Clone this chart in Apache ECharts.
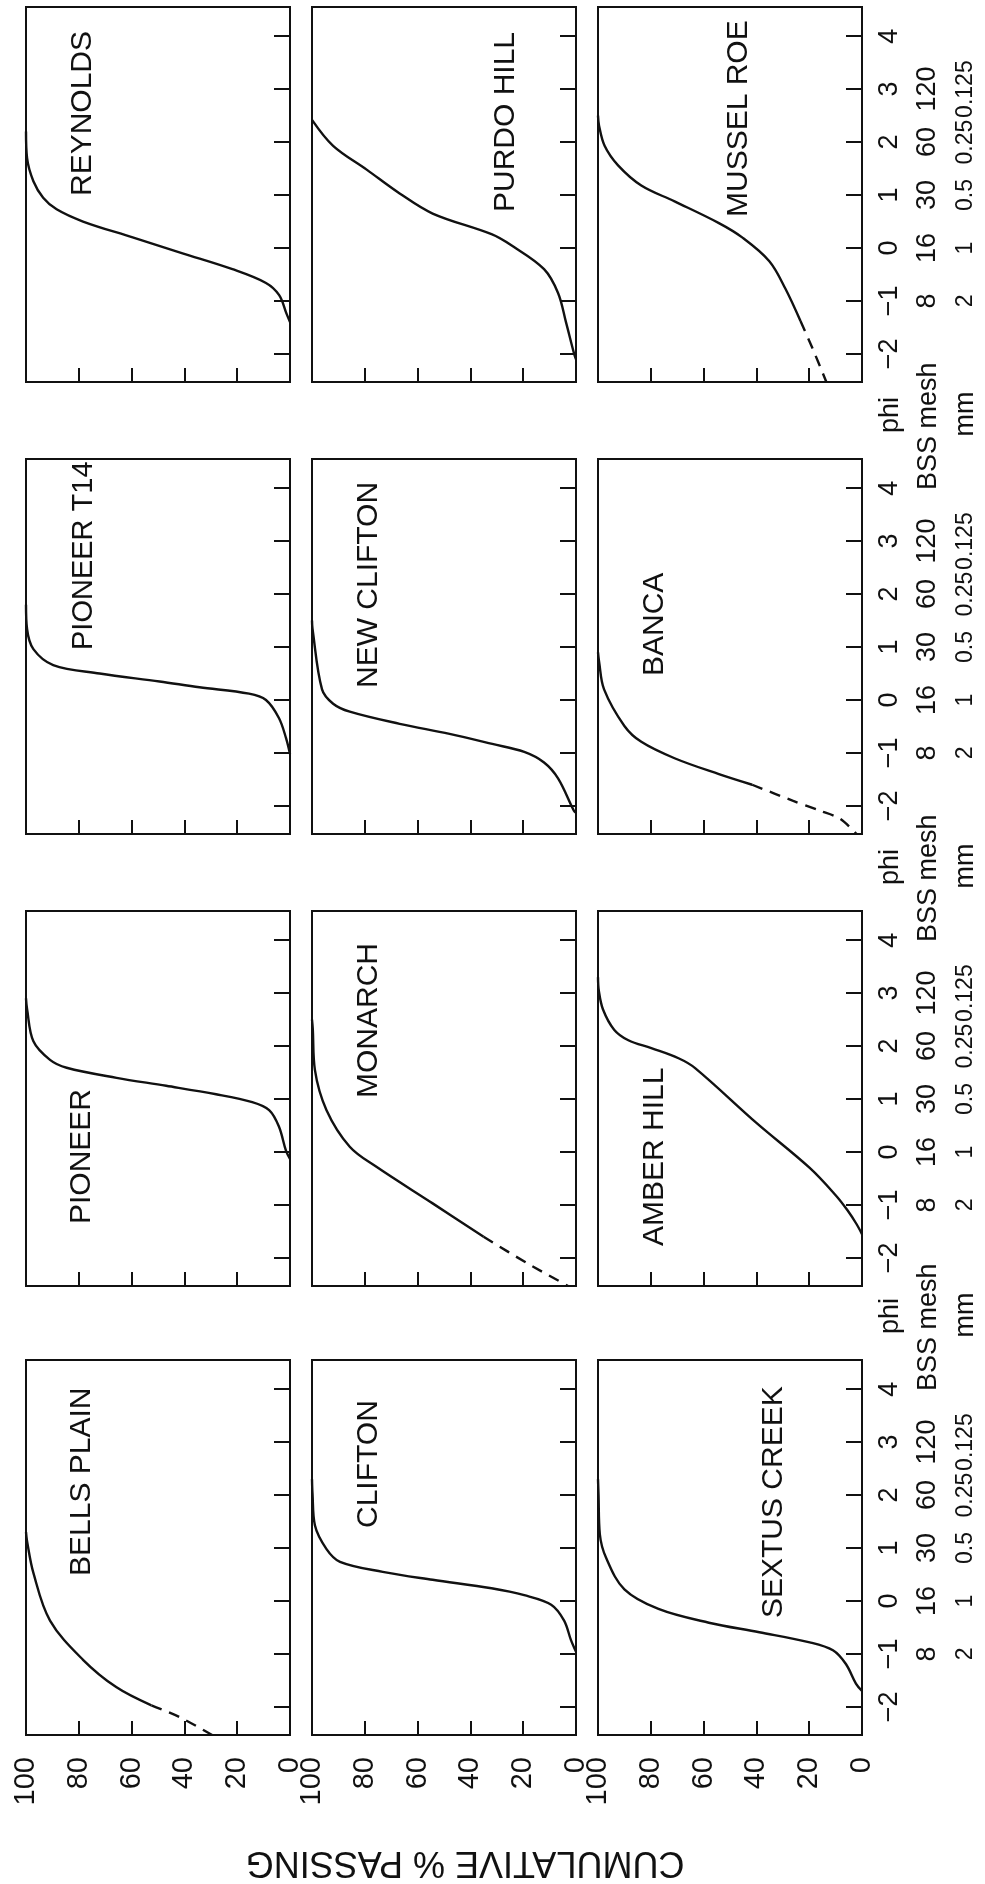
<!DOCTYPE html>
<html><head><meta charset="utf-8">
<script src="https://cdn.jsdelivr.net/npm/echarts@6/dist/echarts.min.js"></script>
<style>html,body{margin:0;padding:0;background:#fff}#c{width:985px;height:1884px}</style>
</head><body><div id="c"></div>
<script>
// ---------------- data ----------------
const panelNames = [
  'REYNOLDS', 'PURDO HILL', 'MUSSEL ROE',
  'PIONEER T14', 'NEW CLIFTON', 'BANCA',
  'PIONEER', 'MONARCH', 'AMBER HILL',
  'BELLS PLAIN', 'CLIFTON', 'SEXTUS CREEK'
];
// curves: [phi, cumulative % passing]
const reynolds = [[2.2,100],[1.7,99.6],[1.26,97.2],[0.95,93.5],[0.73,88.4],[0.5,78.4],[0.2,59.6],[-0.1,40.7],[-0.4,21.8],[-0.66,9.1],[-0.89,4.1],[-1.23,1.4],[-1.4,0]];
const purdoHill = [[2.42,100],[1.93,92],[1.48,79.3],[1.03,66.8],[0.65,54.3],[0.26,32],[0.05,24.5],[-0.4,12.1],[-0.85,6.8],[-1.4,3.8],[-2.0,0.7],[-2.1,0]];
const musselRoe = [[2.5,100],[2.31,99.6],[1.93,97.5],[1.56,92.4],[1.18,83.6],[0.88,71],[0.47,54.2],[0.2,45.4],[-0.25,35.1],[-0.77,29],[-1.38,23.3]];
const musselRoeDash = [[-1.38,23.3],[-1.9,18.7],[-2.53,13.5]];
const pioneerT14 = [[1.8,100],[1.34,99.6],[0.96,97.2],[0.66,89.7],[0.5,72.1],[0.35,49.4],[0.24,34.3],[0.12,15.5],[0.0,9.1],[-0.34,4.2],[-0.72,1.5],[-1.02,0]];
const newClifton = [[1.5,100],[1.34,99.8],[0.2,96.2],[-0.07,92],[-0.22,85.7],[-0.45,66.8],[-0.64,47.9],[-0.83,31.7],[-0.98,19.6],[-1.18,12.1],[-1.48,6.8],[-2.09,0.8],[-2.13,0]];
const banca = [[0.9,100],[0.73,99.6],[0.2,97.7],[-0.49,90],[-0.79,83.6],[-1.1,71],[-1.4,54.2],[-1.6,41.6]];
const bancaDash = [[-1.6,41.6],[-1.9,26.3],[-2.09,16],[-2.24,8.4],[-2.53,2]];
const pioneer = [[2.9,100],[2.7,99.6],[2.09,97.2],[1.74,90.9],[1.59,84.6],[1.4,65.7],[1.25,46.9],[1.09,28],[0.94,14.3],[0.79,7.9],[0.48,4.2],[0.02,1.5],[-0.13,0]];
const monarch = [[2.5,100],[2.32,99.7],[1.55,98.9],[0.79,94.5],[0.1,85.7],[-0.28,75.6],[-0.97,54.3],[-1.6,35]];
const monarchDash = [[-1.6,35],[-2.1,18.5],[-2.53,3]];
const amberHill = [[3.3,100],[3.05,99.7],[2.69,98.1],[2.31,93.9],[2.11,88.5],[1.96,79.8],[1.77,69.5],[1.58,63.1],[0.55,40],[-0.3,19.8],[-0.82,9.9],[-1.1,5.5],[-1.35,2.2],[-1.55,0]];
const bellsPlain = [[1.3,100],[1.13,99.6],[0.53,97.2],[-0.37,90.9],[-1.11,78.4],[-1.63,65.7],[-1.97,52.5]];
const bellsPlainDash = [[-1.97,52.5],[-2.19,41.9],[-2.53,29.5]];
const clifton = [[2.3,100],[2.02,99.8],[1.43,98.9],[0.98,94.5],[0.74,89.4],[0.55,73.2],[0.40,54.3],[0.24,32],[0.11,19.6],[-0.07,9.4],[-0.37,4.5],[-0.74,1.9],[-0.96,0]];
const sextusCreek = [[2.3,100],[2.0,99.8],[1.26,99.3],[0.81,96.9],[0.22,90],[-0.15,77.1],[-0.41,58],[-0.59,38.9],[-0.78,19.8],[-0.93,11],[-1.19,6.1],[-1.56,2.3],[-1.7,0]];

const solidCurves = [reynolds, purdoHill, musselRoe, pioneerT14, newClifton, banca, pioneer, monarch, amberHill, bellsPlain, clifton, sextusCreek];
const dashedCurves = [null, null, musselRoeDash, null, null, bancaDash, null, monarchDash, null, bellsPlainDash, null, null];

const phiTicks = [-2, -1, 0, 1, 2, 3, 4];
const meshTicks = [-1, 0, 1, 2, 3];
const meshLabels = ['8', '16', '30', '60', '120'];
const mmLabels = ['2', '1', '0.5', '0.25', '0.125'];
const pctTickVals = [20, 40, 60, 80];
const pctLabelVals = [0, 20, 40, 60, 80, 100];
const PHI_MIN = -2.53, PHI_MAX = 4.55;
const yTitle = 'CUMULATIVE % PASSING';
const phiWord = 'phi', meshWord = 'BSS mesh', mmWord = 'mm';

// ---------------- layout / style ----------------
const FONT = "'Liberation Sans', Arial, Helvetica, sans-serif";
const INK = '#111';
const colLeft = [26, 312, 598];
const rowTop = [7, 459, 911, 1360];
const W = 264, H = 375;
// panel title placement: [dx from grid left (text centre), dy from grid top (text start, bottom), font size]
const titlePos = [
  [57,189,30],[194,205,30],[141,210,30],
  [58,191,29],[57,229,30],[57,217,30],
  [56,313,30],[57,187,30],[57,335,30],
  [56,216,30],[57,168,30],[176,258,30]
];

const grids = [], xAxes = [], yAxes = [], series = [], graphics = [];
const fmtPhi = v => v < 0 ? '\u2212' + Math.abs(v) : String(v);

panelNames.forEach((name, i) => {
  const r = Math.floor(i / 3), c = i % 3;
  grids.push({left: colLeft[c], top: rowTop[r], width: W, height: H, show: true,
    borderColor: INK, borderWidth: 2, backgroundColor: 'rgba(0,0,0,0)', containLabel: false});
  xAxes.push({gridIndex: i, type: 'value', min: 0, max: 100, interval: 20, inverse: true, position: 'bottom',
    axisLine: {show: false, onZero: false}, splitLine: {show: false},
    axisTick: {show: true, inside: true, length: 14, lineStyle: {color: INK, width: 2}, customValues: pctTickVals},
    axisLabel: {show: r === 3, rotate: 90, margin: 22, fontSize: 29, color: INK, fontFamily: FONT,
      customValues: pctLabelVals, showMinLabel: true, showMaxLabel: true}
  });
  const phiAxisIndex = yAxes.length;
  yAxes.push({gridIndex: i, type: 'value', min: PHI_MIN, max: PHI_MAX, position: 'right',
    axisLine: {show: false, onZero: false}, splitLine: {show: false},
    axisTick: {show: true, inside: true, length: 16, lineStyle: {color: INK, width: 2}, customValues: phiTicks},
    axisLabel: {show: c === 2, rotate: 90, margin: 14, fontSize: 27, color: INK, fontFamily: FONT,
      customValues: phiTicks, formatter: fmtPhi, showMinLabel: true, showMaxLabel: true}
  });
  if (c === 2) {
    yAxes.push({gridIndex: i, type: 'value', min: PHI_MIN, max: PHI_MAX, position: 'right', offset: 38,
      axisLine: {show: false, onZero: false}, axisTick: {show: false}, splitLine: {show: false},
      axisLabel: {show: true, rotate: 90, margin: 14, fontSize: 27, color: INK, fontFamily: FONT,
        customValues: meshTicks, showMinLabel: true, showMaxLabel: true,
        formatter: v => meshLabels[meshTicks.indexOf(Math.round(v))] || ''}
    });
    yAxes.push({gridIndex: i, type: 'value', min: PHI_MIN, max: PHI_MAX, position: 'right', offset: 78,
      axisLine: {show: false, onZero: false}, axisTick: {show: false}, splitLine: {show: false},
      axisLabel: {show: true, rotate: 90, margin: 14, fontSize: 23, color: INK, fontFamily: FONT,
        customValues: meshTicks, showMinLabel: true, showMaxLabel: true, hideOverlap: false,
        formatter: v => mmLabels[meshTicks.indexOf(Math.round(v))] || ''}
    });
  }
  series.push({type: 'line', xAxisIndex: i, yAxisIndex: phiAxisIndex, showSymbol: false, smooth: 0.35,
    lineStyle: {color: INK, width: 2.4}, data: solidCurves[i].map(d => [d[1], d[0]]), silent: true});
  if (dashedCurves[i]) {
    series.push({type: 'line', xAxisIndex: i, yAxisIndex: phiAxisIndex, showSymbol: false, smooth: 0.3,
      lineStyle: {color: INK, width: 2.4, type: [11, 8]}, data: dashedCurves[i].map(d => [d[1], d[0]]), silent: true});
  }
  graphics.push({type: 'text', x: colLeft[c] + titlePos[i][0], y: rowTop[r] + titlePos[i][1], rotation: Math.PI / 2,
    style: {text: name, x: 0, y: 0, fontSize: titlePos[i][2], fontFamily: FONT, fill: INK,
      textAlign: 'left', textVerticalAlign: 'middle', align: 'left', verticalAlign: 'middle'}});
});

// gap labels (phi / BSS mesh / mm) above rows 2-4
for (let r = 1; r < 4; r++) {
  const T = rowTop[r];
  graphics.push({type: 'text', x: 891, y: T - 44, rotation: Math.PI / 2,
    style: {text: phiWord, x: 0, y: 0, fontSize: 27, fontFamily: FONT, fill: INK,
      textAlign: 'center', textVerticalAlign: 'middle', align: 'center', verticalAlign: 'middle'}});
  graphics.push({type: 'text', x: 929, y: T + 31, rotation: Math.PI / 2,
    style: {text: meshWord, x: 0, y: 0, fontSize: 27, fontFamily: FONT, fill: INK,
      textAlign: 'left', textVerticalAlign: 'middle', align: 'left', verticalAlign: 'middle'}});
  graphics.push({type: 'text', x: 966, y: T - 45, rotation: Math.PI / 2,
    style: {text: mmWord, x: 0, y: 0, fontSize: 27, fontFamily: FONT, fill: INK,
      textAlign: 'center', textVerticalAlign: 'middle', align: 'center', verticalAlign: 'middle'}});
}
// overall axis title (upside down)
graphics.push({type: 'text', x: 465, y: 1862, rotation: Math.PI,
  style: {text: yTitle, x: 0, y: 0, fontSize: 36, fontFamily: FONT, fill: INK,
    textAlign: 'center', textVerticalAlign: 'middle', align: 'center', verticalAlign: 'middle'}});

const chart = echarts.init(document.getElementById('c'), null, {renderer: 'canvas'});
chart.setOption({
  backgroundColor: '#ffffff',
  animation: false,
  textStyle: {fontFamily: FONT, color: INK},
  grid: grids, xAxis: xAxes, yAxis: yAxes, series: series, graphic: graphics
});
</script>
</body></html>
